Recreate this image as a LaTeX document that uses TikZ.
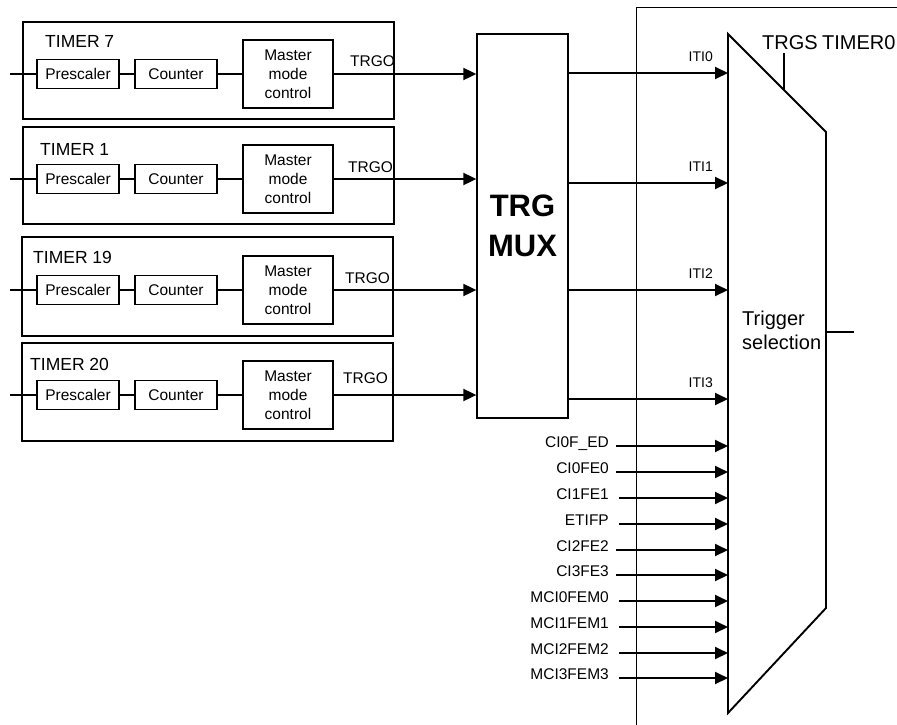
\documentclass[tikz,border=0pt]{standalone}
\usepackage{fontspec}
\setmainfont{Liberation Sans}
\usetikzlibrary{arrows.meta}
\begin{document}
\begin{tikzpicture}[x=1pt,y=-1pt,
  frame/.style={draw,line width=1.3pt,inner sep=0pt},
  box/.style={draw,line width=1.3pt,inner sep=0pt,font=\fontsize{15.5}{19}\selectfont,align=center},
  wire/.style={line width=1.9pt},
  arr/.style={line width=1.9pt,-{Triangle[length=13pt,width=12pt]}},
  title/.style={inner sep=0pt,font=\fontsize{17.5}{20}\selectfont},
  lbl/.style={inner sep=0pt,font=\fontsize{15.5}{18}\selectfont},
  small/.style={inner sep=0pt,font=\fontsize{14}{16}\selectfont},
  big/.style={inner sep=0pt,font=\fontsize{20}{24}\selectfont}
]
\useasboundingbox (0,0) rectangle (897,724);
\clip (0,0) rectangle (897,724);

% TIMER0 frame
\node[frame,anchor=north west,minimum width=290pt,minimum height=740pt] (t0) at (636,7) {};
\node[big,anchor=base west] (t0lbl) at (822,49) {TIMER0};

% TRG MUX
\node[frame,minimum width=91pt,minimum height=384pt,align=center,
      font=\fontsize{31}{40}\selectfont\bfseries] (mux) at (522.5,226) {TRG\\MUX};

% Trigger selection trapezoid
\coordinate (tsA) at (728,34);
\coordinate (tsB) at (826,132);
\coordinate (tsC) at (826,608);
\coordinate (tsD) at (728,713);
\draw[line width=1.9pt] (tsA) -- (tsB) -- (tsC) -- (tsD) -- cycle;
\node[big,anchor=west,align=left] (tstext) at (742,330) {Trigger\\selection};
\coordinate (tsout0) at (826,332);
\coordinate (tsout1) at (854,332);
\draw[wire] (tsout0) -- (tsout1);
\coordinate (trgs0) at (784,53);
\coordinate (trgs1) at (784,90);
\draw[wire] (trgs0) -- (trgs1);
\node[big,anchor=base west] (trgslbl) at (762,49) {TRGS};

% Timers
\foreach \i/\ry/\bx/\by/\bh/\tx/\ty/\gx/\gy in
  {7/74/208.5/70.5/97/45/47/350/66,
   1/179/208.5/175.5/97/40/155/348/172,
   19/290/207.5/286.5/99/33/263/345/283,
   20/395/207.5/392/98/30/370/343/383}{
  \node[frame,minimum width=371pt,minimum height=\bh pt] (tim\i) at (\bx,\by) {};
  \node[title,anchor=base west] (tt\i) at (\tx,\ty) {TIMER \i};
  \node[box,minimum width=82pt,minimum height=29pt] (pre\i) at (78,\ry) {Prescaler};
  \node[box,minimum width=82pt,minimum height=29pt] (cnt\i) at (176,\ry) {Counter};
  \node[box,minimum width=90pt,minimum height=68pt] (mmc\i) at (288,\ry) {Master\\mode\\control};
  \coordinate (in\i) at (10,\ry);
  \draw[wire] (in\i) -- (pre\i);
  \draw[wire] (pre\i) -- (cnt\i);
  \draw[wire] (cnt\i) -- (mmc\i);
  \draw[arr] (mmc\i) -- (mmc\i -| mux.west);
  \node[lbl,anchor=base west] (trgo\i) at (\gx,\gy) {TRGO};
}

% ITI arrows
\foreach \k/\y in {0/73,1/183,2/290,3/399}{
  \coordinate (iti\k) at (728,\y);
  \draw[arr] (mux.east |- iti\k) -- (iti\k);
  \node[small,anchor=base east] (itil\k) at (713,\y-12) {ITI\k};
}

% Other trigger inputs
\foreach \n/\t/\y/\s in {1/CI0F\_ED/446/616, 2/CI0FE0/472/616, 3/CI1FE1/498/619,
   4/ETIFP/524/619, 5/CI2FE2/550/616, 6/CI3FE3/575/616, 7/MCI0FEM0/601/619,
   8/MCI1FEM1/627/619, 9/MCI2FEM2/653/619, 10/MCI3FEM3/678/619}{
  \coordinate (ins\n) at (\s,\y);
  \coordinate (ine\n) at (728,\y);
  \draw[arr] (ins\n) -- (ine\n);
  \node[lbl,anchor=base east] (inl\n) at (609,\y+1) {\t};
}
\end{tikzpicture}
\end{document}
